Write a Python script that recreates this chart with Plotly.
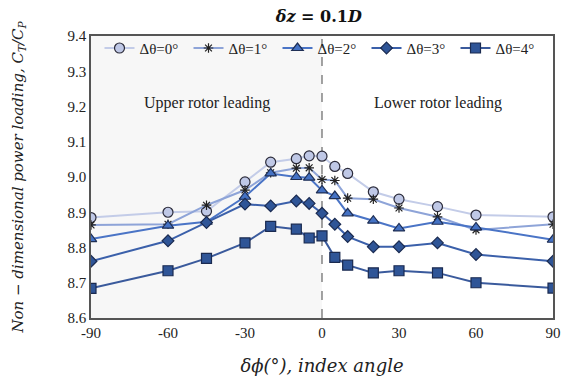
import plotly.graph_objects as go

index_angle = [-90, -60, -45, -30, -20, -10, -5, 0, 5, 10, 20, 30, 45, 60, 90]
dtheta_0 = [8.885, 8.900, 8.903, 8.986, 9.042, 9.052, 9.060, 9.059, 9.030, 9.010, 8.958, 8.937, 8.916, 8.892, 8.887]
dtheta_1 = [8.864, 8.866, 8.920, 8.963, 9.012, 9.025, 9.026, 8.993, 8.990, 8.940, 8.937, 8.912, 8.887, 8.850, 8.866]
dtheta_2 = [8.824, 8.862, 8.873, 8.944, 9.010, 9.000, 8.998, 8.962, 8.946, 8.897, 8.876, 8.854, 8.873, 8.857, 8.822]
dtheta_3 = [8.761, 8.819, 8.871, 8.923, 8.918, 8.932, 8.925, 8.897, 8.866, 8.831, 8.802, 8.802, 8.813, 8.780, 8.761]
dtheta_4 = [8.684, 8.734, 8.769, 8.813, 8.860, 8.852, 8.827, 8.833, 8.772, 8.750, 8.728, 8.734, 8.728, 8.700, 8.685]
series_names = ["Δθ=0°", "Δθ=1°", "Δθ=2°", "Δθ=3°", "Δθ=4°"]
x_ticks = [-90, -60, -30, 0, 30, 60, 90]
x_tick_text = ["-90", "-60", "-30", "0", "30", "60", "90"]
y_ticks = [8.6, 8.7, 8.8, 8.9, 9.0, 9.1, 9.2, 9.3, 9.4]

series = [dtheta_0, dtheta_1, dtheta_2, dtheta_3, dtheta_4]
styles = [
    dict(line="#C3CCE8", symbol="circle", size=10, fill="#BFC8E6", outline="#2B2B3A"),
    dict(line="#8EA4D8", symbol="asterisk-open", size=8, fill="#222222", outline="#222222"),
    dict(line="#4A74C6", symbol="triangle-up", size=10, fill="#4472C4", outline="#1F2F55"),
    dict(line="#3B60AA", symbol="diamond", size=9, fill="#2F5597", outline="#1A2A50"),
    dict(line="#3A5A9C", symbol="square", size=10, fill="#2F5597", outline="#1A2A50"),
]

serif = "Liberation Serif"
math = "DejaVu Serif"
fig = go.Figure()
for name, ys, st in zip(series_names, series, styles):
    fig.add_trace(go.Scatter(
        x=index_angle, y=ys, name=name, mode="lines+markers",
        line=dict(color=st["line"], width=2),
        marker=dict(symbol=st["symbol"], size=st["size"], color=st["fill"],
                    line=dict(color=st["outline"], width=1.2)),
    ))

fig.add_shape(type="rect", xref="x", yref="paper", x0=-90, x1=0, y0=0, y1=1,
              fillcolor="#F7F7F7", line=dict(width=0), layer="below")
fig.add_shape(type="line", xref="x", yref="paper", x0=0, x1=0, y0=0, y1=1,
              line=dict(color="#666666", width=1.2, dash="dash"), layer="below")

fig.add_annotation(x=-45, y=9.21, text="Upper rotor leading", showarrow=False,
                   font=dict(family=serif, size=16, color="#222222"))
fig.add_annotation(x=45, y=9.21, text="Lower rotor leading", showarrow=False,
                   font=dict(family=serif, size=16, color="#222222"))

# page body adds an 8px offset, so the figure is sized to end at the window edge
fig.update_layout(
    width=562, height=377,
    margin=dict(l=83, r=17, t=28, b=67, autoexpand=False),
    plot_bgcolor="white", paper_bgcolor="white",
    title=dict(text="<b><i>δz</i> = 0.1<i>D</i></b>", x=0.553, xanchor="center",
               y=1.0, yanchor="top", pad=dict(t=3),
               font=dict(family=math, size=16, color="#111111")),
    showlegend=True,
    legend=dict(orientation="h", x=0.5, xanchor="center", y=1.015, yanchor="top",
                font=dict(family=serif, size=15, color="#222222"),
                bgcolor="rgba(0,0,0,0)", itemwidth=30, tracegroupgap=0,
                entrywidthmode="pixels", entrywidth=44),
    xaxis=dict(range=[-90, 90], tickvals=x_ticks, ticktext=x_tick_text,
               showgrid=False, zeroline=False, showline=True, mirror=True,
               linecolor="#555555", linewidth=1.5, ticks="", automargin=False,
               tickfont=dict(family=serif, size=15, color="#222222"),
               title=dict(text="<i>δϕ(°), index angle</i>", standoff=20,
                          font=dict(family=math, size=18, color="#222222"))),
    yaxis=dict(range=[8.6, 9.4], tickvals=y_ticks, tickformat=".1f",
               showgrid=False, zeroline=False, showline=True, mirror=True,
               linecolor="#555555", linewidth=1.5, ticks="", automargin=False,
               tickfont=dict(family=serif, size=15, color="#222222"),
               title=dict(text="<i>Non − dimensional power loading, C<sub>T</sub>/C<sub>P</sub></i>",
                          standoff=40,
                          font=dict(family=math, size=15, color="#222222"))),
)

fig.write_html("out.html")
